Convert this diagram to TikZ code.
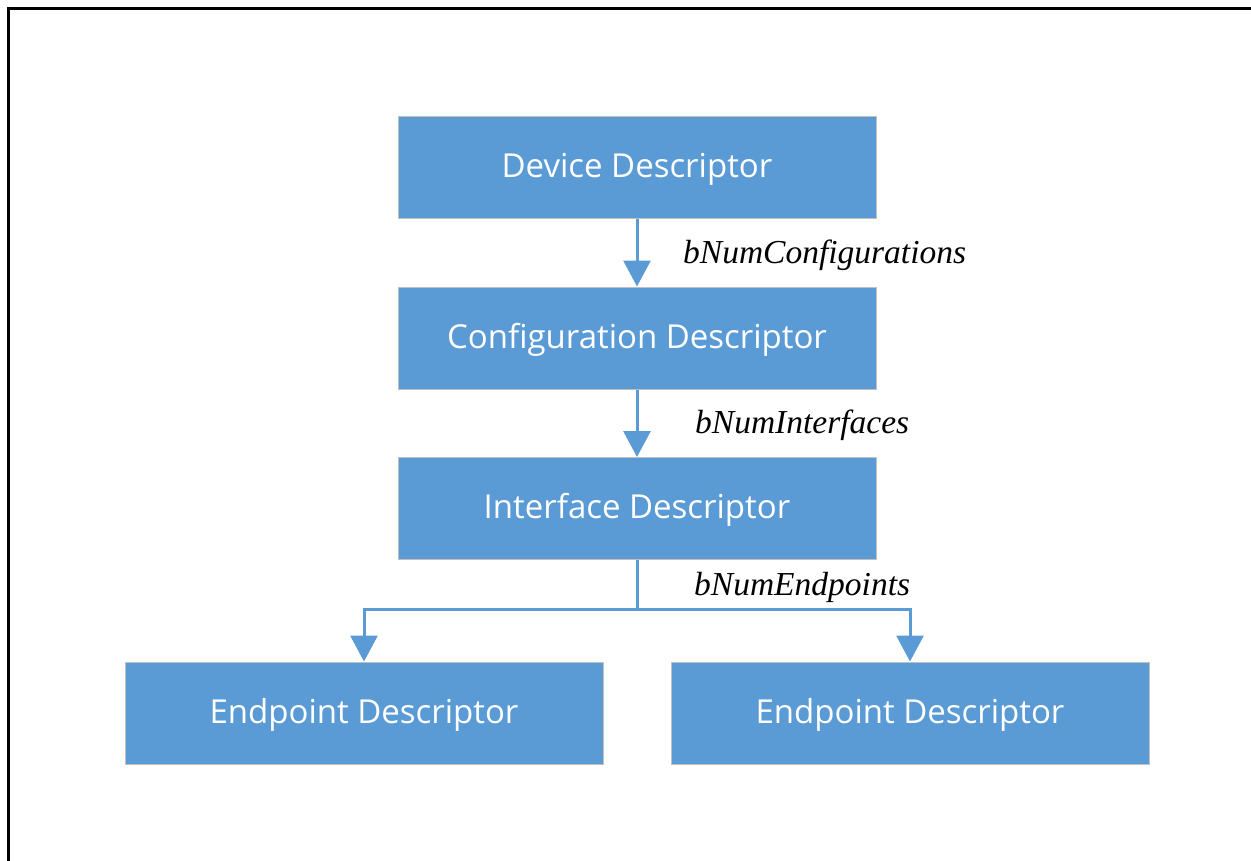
\documentclass[tikz,border=0pt]{standalone}
\usepackage{fontspec}
\setmainfont{Liberation Serif}
\newfontfamily\boxfont{Open Sans}
\usetikzlibrary{arrows.meta}
\definecolor{boxblue}{HTML}{5B9BD5}
\definecolor{boxedge}{HTML}{C0C0C0}
\tikzset{
  desc/.style={draw=boxedge, line width=1pt, fill=boxblue, minimum width=478pt, minimum height=102pt,
    inner sep=0pt, text height=25pt, text depth=5pt, text=white, font=\boxfont\fontsize{33}{38}\selectfont},
  arr/.style={draw=boxblue, line width=3pt, -{Triangle[width=27pt,length=26pt]}},
  conn/.style={draw=boxblue, line width=3pt},
  lbl/.style={anchor=base west, inner sep=0pt, font=\itshape\fontsize{33.5}{38}\selectfont}
}
\begin{document}
\begin{tikzpicture}[x=1pt,y=-1pt]
\useasboundingbox (0,0) rectangle (1251,860);
\draw[line width=3pt, line cap=rect] (8,860) -- (8,8) -- (1251,8);
\node[desc] (dev)  at (637,167) {Device Descriptor};
\node[desc] (conf) at (637,338) {Configuration Descriptor};
\node[desc] (intf) at (637,508.5) {Interface Descriptor};
\node[desc] (ep1)  at (364,713) {Endpoint Descriptor};
\node[desc] (ep2)  at (910,713) {Endpoint Descriptor};
\draw[arr] (dev.south) -- (conf.north);
\draw[arr] (conf.south) -- (intf.north);
\draw[conn] (intf.south) -- ++(0,49) coordinate (j);
\draw[arr] (j) -| (ep1.north);
\draw[arr] (j) -| (ep2.north);
\node[lbl] (l1) at (683,263) {bNumConfigurations};
\node[lbl] (l2) at (695,433) {bNumInterfaces};
\node[lbl] (l3) at (694,595) {bNumEndpoints};
\end{tikzpicture}
\end{document}
